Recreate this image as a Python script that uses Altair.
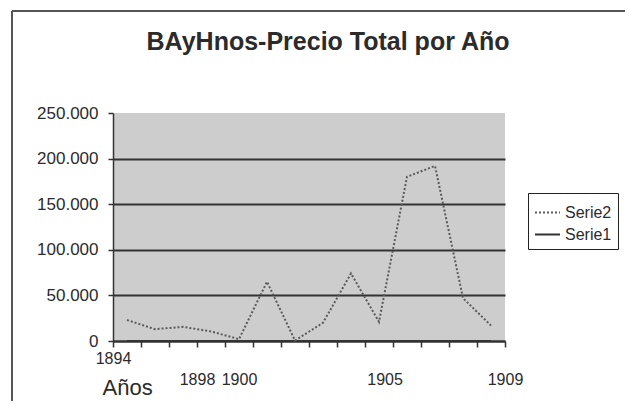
import altair as alt
import pandas as pd

# ---- data ----
YEARS = [1895, 1896, 1897, 1898, 1899, 1900, 1901, 1902, 1903, 1904, 1905, 1906, 1907, 1908]
SERIE2 = [23000, 13000, 15500, 10500, 2000, 65000, 500, 20000, 74000, 21000, 180000, 192000, 47000, 17000]
SERIE1 = [0, 0, 0, 0, 0, 0, 0, 0, 0, 0, 0, 0, 0, 0]
SERIES = ["Serie2", "Serie1"]
X_LABELS = ["1894", "1898", "1900", "1905", "1909"]
Y_TICKS = [0, 50000, 100000, 150000, 200000, 250000]

rows = []
for name, vals in (("Serie1", SERIE1), ("Serie2", SERIE2)):
    for y, v in zip(YEARS, vals):
        rows.append({"year": y, "value": v, "serie": name})
df = pd.DataFrame(rows)

FONT = "Liberation Sans"
TXT = "#2b2b2b"

# axis layout: tick marks at category boundaries, labels where the reference prints them
tick_vals = [YEARS[0] - 0.5 + k for k in range(len(YEARS) + 1)]
label_vals = [1894.5, 1897.5, 1899, 1904.2, 1908.5]
all_vals = sorted(set(tick_vals + label_vals))
expr = "''"
for v, t in zip(reversed(label_vals), reversed(X_LABELS)):
    expr = f"datum.value == {v} ? '{t}' : ({expr})"

x_enc = alt.X(
    "year:Q",
    scale=alt.Scale(domain=[YEARS[0] - 0.5, YEARS[-1] + 0.5], nice=False, zero=False),
    axis=alt.Axis(
        values=all_vals,
        labelExpr=expr,
        labelFlush=False,
        labelOverlap=False,
        labelFont=FONT,
        labelFontSize=16,
        labelColor=TXT,
        labelBaseline="top",
        labelPadding={"condition": {"test": "datum.value == 1894.5", "value": 3}, "value": 24},
        tickOpacity={"condition": {"test": "datum.value % 1 == 0.5", "value": 1}, "value": 0},
        tickSize=6,
        tickWidth=1.5,
        tickColor="#333",
        domainColor="#333",
        domainWidth=2,
        grid=False,
        title="Años",
        titleFont=FONT,
        titleFontSize=22,
        titleFontWeight="normal",
        titleColor=TXT,
        titleAnchor="start",
        titleAlign="left",
        titleBaseline="top",
        titleX=-11,
        titleY=36,
    ),
)

y_enc = alt.Y(
    "value:Q",
    scale=alt.Scale(domain=[0, 250000], nice=False),
    axis=alt.Axis(
        values=Y_TICKS,
        labelExpr="replace(format(datum.value, ',.0f'), ',', '.')",
        labelFont=FONT,
        labelFontSize=17,
        labelColor=TXT,
        labelPadding=10,
        tickSize=5,
        tickColor="#333",
        tickWidth=1.5,
        domainColor="#333",
        domainWidth=1.5,
        grid=True,
        gridColor="#333",
        gridWidth=2,
        gridOpacity={"condition": {"test": "datum.value == 250000", "value": 0}, "value": 1},
        title=None,
    ),
)

color_enc = alt.Color(
    "serie:N",
    scale=alt.Scale(domain=SERIES, range=["#5a5a5a", "#333333"]),
    legend=alt.Legend(
        title=None,
        orient="none",
        legendX=415,
        legendY=80,
        direction="vertical",
        symbolType="stroke",
        symbolSize=625,
        symbolStrokeWidth=2,
        labelFont=FONT,
        labelFontSize=16,
        labelColor=TXT,
        strokeColor="#222",
        fillColor="white",
        padding=6,
        rowPadding=0,
        labelOffset=4,
    ),
)
dash_enc = alt.StrokeDash(
    "serie:N",
    scale=alt.Scale(domain=SERIES, range=[[2, 2], [1, 0]]),
    legend=alt.Legend(title=None, orient="none", legendX=415, legendY=80),
)

lines = (
    alt.Chart(df)
    .mark_line(strokeWidth=2)
    .encode(x=x_enc, y=y_enc, color=color_enc, strokeDash=dash_enc,
            order=alt.Order("year:Q"))
)

frame_left = alt.Chart(df).mark_rule(color="#555", strokeWidth=2).encode(
    x=alt.value(-101), y=alt.value(-102), y2=alt.value(320)
)
frame_top = alt.Chart(df).mark_rule(color="#555", strokeWidth=2).encode(
    x=alt.value(-101), x2=alt.value(520), y=alt.value(-102)
)

chart = (
    alt.layer(frame_left, frame_top, lines)
    .properties(
        width=392,
        height=228,
        title=alt.TitleParams(
            "BAyHnos-Precio Total por Año",
            font=FONT,
            fontSize=25,
            fontWeight="bold",
            color=TXT,
            anchor="middle",
            dx=19,
            dy=45,
            offset=0,
        ),
        autosize=alt.AutoSizeParams(type="none"),
        padding={"left": 105, "top": 105, "right": 120, "bottom": 60},
        background="white",
    )
    .configure_view(fill="#cdcdcd", stroke=None)
)

chart.save("out.html", embed_options={"renderer": "svg", "actions": False})
